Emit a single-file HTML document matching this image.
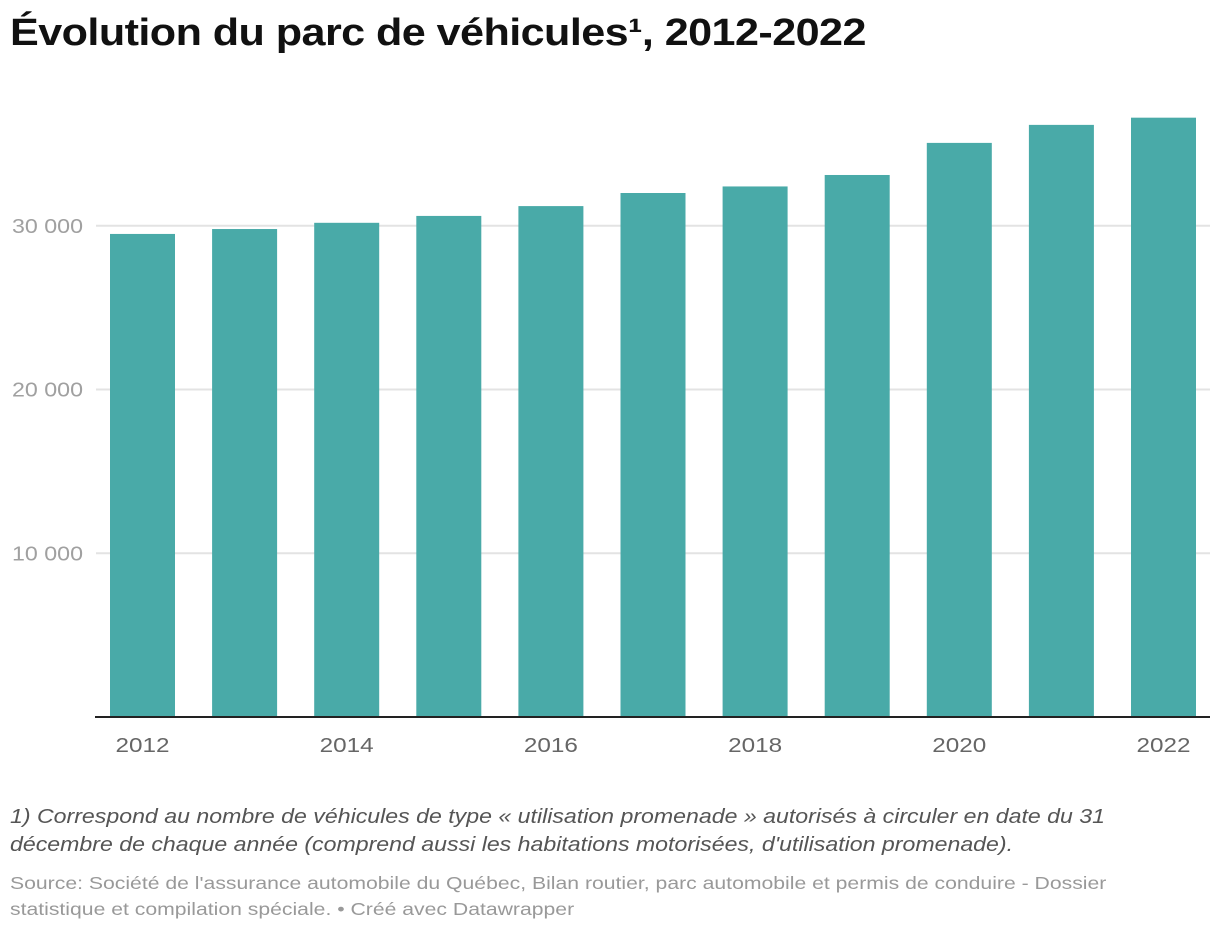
<!DOCTYPE html>
<html><head><meta charset="utf-8"><style>
body{margin:0;width:1220px;height:932px;background:#fff;font-family:"Liberation Sans",sans-serif;overflow:hidden;position:relative}
h1{position:absolute;left:10px;top:12px;margin:0;font-size:38px;font-weight:bold;color:#111;letter-spacing:-0.5px;transform:scaleX(1.135);transform-origin:0 0;white-space:nowrap}
.note{position:absolute;left:10px;top:803px;font-size:20px;font-style:italic;color:#555;line-height:28px;transform:scaleX(1.156);transform-origin:0 0;white-space:nowrap}
.src{position:absolute;left:10px;top:870px;font-size:17.5px;color:#999;line-height:26px;transform:scaleX(1.21);transform-origin:0 0;white-space:nowrap}
svg{position:absolute;left:0;top:0}
</style></head><body>
<h1>Évolution du parc de véhicules¹, 2012-2022</h1>
<svg id="chart" width="1220" height="800"></svg>
<div class="note">1) Correspond au nombre de véhicules de type « utilisation promenade » autorisés à circuler en date du 31<br>décembre de chaque année (comprend aussi les habitations motorisées, d'utilisation promenade).</div>
<div class="src">Source: Société de l'assurance automobile du Québec, Bilan routier, parc automobile et permis de conduire - Dossier<br>statistique et compilation spéciale. • Créé avec Datawrapper</div>
<script>
const years=[2012,2013,2014,2015,2016,2017,2018,2019,2020,2021,2022];
const values=[29500,29800,30180,30600,31200,32000,32400,33100,35060,36160,36600];
const yTicks=[10000,20000,30000];
const yTickLabels=["10 000","20 000","30 000"];
const xLabelYears=[2012,2014,2016,2018,2020,2022];
const svg=document.getElementById('chart');
const NS='http://www.w3.org/2000/svg';
const y=v=>717-v*0.016375;
const x=i=>110+i*102.1;
const bw=65;
function mk(t,a){const e=document.createElementNS(NS,t);for(const k in a)e.setAttribute(k,a[k]);svg.appendChild(e);return e;}
yTicks.forEach((t,i)=>{
 const g=mk('line',{x1:96,x2:1210,y1:y(t),y2:y(t),stroke:'#e3e3e3','stroke-width':2});
 
 
 const l=mk('text',{x:12,y:y(t)+7,'font-size':20,fill:'#a0a0a0','font-family':'Liberation Sans, sans-serif',textLength:71,lengthAdjust:'spacingAndGlyphs'});
 l.textContent=yTickLabels[i];
 
 
});
values.forEach((v,i)=>{
 const r=mk('rect',{x:x(i),y:y(v),width:bw,height:717-y(v),fill:'#49aaa8'});
 
 
});
const ax=mk('line',{x1:95,x2:1210,y1:717,y2:717,stroke:'#222','stroke-width':2});


xLabelYears.forEach(yr=>{
 const i=years.indexOf(yr);
 const t=mk('text',{x:x(i)+bw/2-27,y:752,'font-size':20,fill:'#666','font-family':'Liberation Sans, sans-serif',textLength:54,lengthAdjust:'spacingAndGlyphs'});
 t.textContent=yr;
 
 
});
</script>
</body></html>
